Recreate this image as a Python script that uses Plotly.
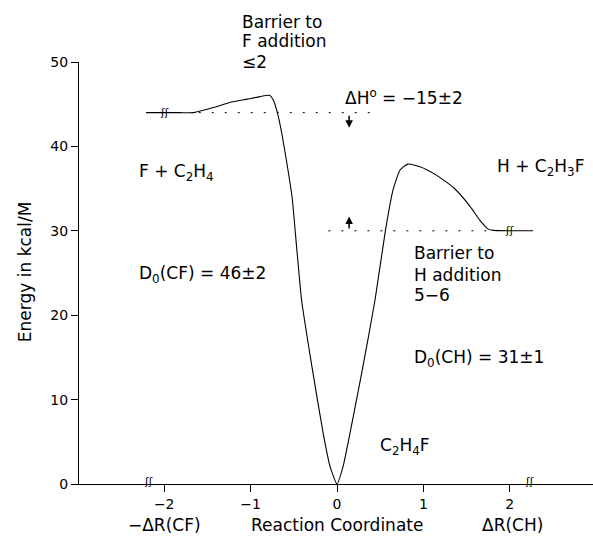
import plotly.graph_objects as go

# ---- data ----
curve_x = [-2.21, -2.0, -1.82, -1.66, -1.43, -1.24, -1.04, -0.89, -0.78, -0.74, -0.69,
           -0.64, -0.58, -0.52, -0.465, -0.41, -0.29, -0.16, -0.08, 0.0, 0.07, 0.15,
           0.30, 0.44, 0.56, 0.65, 0.73, 0.82, 0.96, 1.15, 1.35, 1.54, 1.65, 1.75,
           1.81, 2.0, 2.27]
curve_y = [44.0, 44.0, 44.0, 44.0, 44.6, 45.2, 45.6, 45.9, 46.05, 45.55, 44.0,
           41.6, 38.0, 34.0, 27.8, 21.8, 13.9, 6.0, 2.05, 0.0, 2.05, 6.0,
           13.9, 21.8, 30.0, 34.9, 37.2, 37.9, 37.6, 36.6, 35.1, 32.9, 31.3, 30.2,
           30.05, 30.0, 30.0]

ref_upper_x = [-1.6, 0.38]
ref_upper_y = [44.0, 44.0]
ref_lower_x = [-0.1, 1.8]
ref_lower_y = [30.0, 30.0]

x_ticks = [-2, -1, 0, 1, 2]
y_ticks = [0, 10, 20, 30, 40, 50]

FONT = "DejaVu Sans"
BIG = 17

fig = go.Figure()
fig.add_trace(go.Scatter(x=curve_x, y=curve_y, mode="lines",
                         line=dict(color="black", width=1.1, shape="spline", smoothing=0.5),
                         hoverinfo="skip", showlegend=False))
for xs, ys in [(ref_upper_x, ref_upper_y), (ref_lower_x, ref_lower_y)]:
    fig.add_trace(go.Scatter(x=xs, y=ys, mode="lines",
                             line=dict(color="black", width=1, dash="2px,11px"),
                             hoverinfo="skip", showlegend=False))

ann = []

def txt(x, y, s, xanchor="left", size=BIG, xref="x", yref="y", angle=0):
    ann.append(dict(x=x, y=y, xref=xref, yref=yref, text=s, showarrow=False,
                    xanchor=xanchor, yanchor="middle", textangle=angle,
                    font=dict(family=FONT, size=size, color="black")))

# upper barrier note (above the plot area -> paper coordinates)
txt(0.3132, 1.0948, "Barrier to", xref="paper", yref="paper")
txt(0.3132, 1.0498, "F addition", xref="paper", yref="paper")
txt(0.3132, 1.0, "≤2", xref="paper", yref="paper")
txt(0.07, 45.8, "ΔH<sup>o</sup> = −15±2")
txt(-2.315, 36.9, "F + C<sub>2</sub>H<sub>4</sub>")
txt(-2.315, 24.8, "D<sub>0</sub>(CF) = 46±2")
txt(1.83, 37.5, "H + C<sub>2</sub>H<sub>3</sub>F")
txt(0.87, 27.4, "Barrier to")
txt(0.87, 24.8, "H addition")
txt(0.87, 22.4, "5−6")
txt(0.87, 14.9, "D<sub>0</sub>(CH) = 31±1")
txt(0.475, 4.4, "C<sub>2</sub>H<sub>4</sub>F")
# bottom labels
txt(-2.0, -0.097, "−ΔR(CF)", xanchor="center", yref="paper")
txt(0.0, -0.097, "Reaction Coordinate", xanchor="center", yref="paper")
txt(2.03, -0.097, "ΔR(CH)", xanchor="center", yref="paper")
# y-axis title
txt(-0.105, 25.1, "Energy in kcal/M", xanchor="center", xref="paper", angle=-90)

# break marks
for bx, by in [(-2.18, 0.3), (2.23, 0.3), (-2.0, 44), (2.0, 30)]:
    txt(bx, by, "ʃʃ", xanchor="center", size=11)

# small arrows
ann.append(dict(x=0.14, y=42.2, ax=0.14, ay=43.8, xref="x", yref="y", axref="x", ayref="y",
                showarrow=True, arrowhead=2, arrowsize=1, arrowwidth=1.5, arrowcolor="black", text=""))
ann.append(dict(x=0.14, y=31.7, ax=0.14, ay=30.1, xref="x", yref="y", axref="x", ayref="y",
                showarrow=True, arrowhead=2, arrowsize=1, arrowwidth=1.5, arrowcolor="black", text=""))

fig.update_layout(
    width=593, height=537,
    margin=dict(l=79, r=0, t=62, b=53),
    paper_bgcolor="white", plot_bgcolor="white",
    font=dict(family=FONT, size=14, color="black"),
    annotations=ann,
    xaxis=dict(range=[(79 - 337) / 86.4, (593 - 337) / 86.4], tickvals=x_ticks,
               showline=True, linecolor="black", linewidth=1, ticks="outside",
               ticklen=7, tickcolor="black", showgrid=False, zeroline=False,
               tickfont=dict(family=FONT, size=14)),
    yaxis=dict(range=[0, 50], tickvals=y_ticks, showline=True, linecolor="black",
               linewidth=1, ticks="outside", ticklen=7, tickcolor="black",
               showgrid=False, zeroline=False, tickfont=dict(family=FONT, size=14)),
)

fig.write_html("out.html", config={"displayModeBar": False},
               post_script="document.body.style.margin='0px';document.body.style.overflow='hidden';")
